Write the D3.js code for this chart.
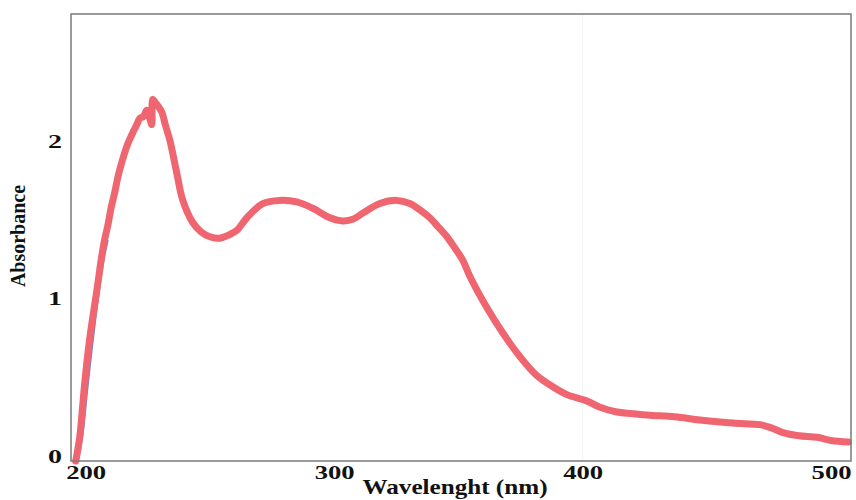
<!DOCTYPE html>
<html>
<head>
<meta charset="utf-8">
<script src="https://cdn.jsdelivr.net/npm/d3@7"></script>
<style>
    body { margin: 0; background: #ffffff; }
</style>
</head>
<body>
<div id="spectrum"></div>
<script>
// 파장(nm) 데이터 - 빨간 흡광 스펙트럼
const wavelength = [196.0, 197.6, 199.6, 201.5, 204.5, 206.5, 207.6, 208.9, 210.2, 211.7, 213.0, 214.9, 216.5, 219.0, 220.6, 221.8, 223.2, 224.6, 225.8, 226.6, 227.0, 228.0, 229.0, 230.6, 232.2, 233.9, 236.7, 239.1, 243.1, 246.5, 250.0, 254.0, 257.5, 260.8, 264.9, 271.3, 278.1, 285.0, 291.4, 298.3, 303.5, 307.5, 311.6, 318.4, 325.2, 330.5, 334.5, 338.5, 342.0, 345.4, 348.5, 351.8, 354.6, 361.5, 367.9, 374.8, 381.6, 388.0, 393.7, 401.7, 407.0, 413.8, 420.0, 427.1, 437.0, 447.2, 460.5, 471.4, 476.0, 480.6, 487.0, 494.3, 500.0, 507.0]
const absorbance = [0.00, 0.15, 0.49, 0.76, 1.08, 1.30, 1.40, 1.49, 1.60, 1.70, 1.80, 1.91, 1.99, 2.08, 2.13, 2.17, 2.18, 2.22, 2.17, 2.13, 2.29, 2.27, 2.25, 2.21, 2.12, 2.03, 1.82, 1.65, 1.51, 1.45, 1.42, 1.41, 1.43, 1.46, 1.54, 1.63, 1.65, 1.64, 1.60, 1.54, 1.52, 1.53, 1.57, 1.63, 1.65, 1.63, 1.59, 1.54, 1.48, 1.42, 1.35, 1.27, 1.17, 0.97, 0.81, 0.66, 0.54, 0.47, 0.42, 0.38, 0.34, 0.31, 0.30, 0.29, 0.28, 0.26, 0.24, 0.23, 0.21, 0.18, 0.16, 0.15, 0.13, 0.12]

// 아래에 살짝 보이는 파란 곡선 (상승 구간만)
const blueWave = [197.0, 198.8, 200.8, 202.8, 205.3, 207.3, 209.0]
const blueAbs = [0.00, 0.16, 0.46, 0.74, 1.06, 1.27, 1.40]

// 축 눈금
const xTicks = [200, 300, 400, 500]
const yTicks = [0, 1, 2]

const spectrum = wavelength.map((w, i) => ({ w: w, a: absorbance[i] }))
const blueLine = blueWave.map((w, i) => ({ w: w, a: blueAbs[i] }))

const margin = { top: 14, right: 5, bottom: 39, left: 71 },
    width = 856 - margin.left - margin.right,
    height = 500 - margin.top - margin.bottom;

const svg = d3.select("#spectrum")
    .append("svg")
    .attr("width", 856)
    .attr("height", 500)
    .append("g")
    .attr("transform", `translate(${margin.left},${margin.top})`);

// 스케일
const xScale = d3.scaleLinear().domain([194.1, 508]).range([0, width])
const yScale = d3.scaleLinear().domain([0, 2.83]).range([height, 0])

// 400nm 위치의 희미한 세로선
svg.append("line")
    .attr("x1", xScale(400)).attr("x2", xScale(400))
    .attr("y1", 0).attr("y2", height)
    .style("stroke", "#f4f4f4")
    .style("stroke-width", 1)

const line = d3.line()
    .x(d => xScale(d.w))
    .y(d => yScale(d.a))
    .curve(d3.curveCatmullRom)

// 파란 곡선 먼저
svg.append("path")
    .datum(blueLine)
    .attr("d", line)
    .style("fill", "none")
    .style("stroke", "#6b86d0")
    .style("stroke-width", 1.5)

// 빨간 스펙트럼
svg.append("path")
    .datum(spectrum)
    .attr("d", line)
    .style("fill", "none")
    .style("stroke", "#ef6670")
    .style("stroke-width", 7)
    .style("stroke-linejoin", "round")
    .style("stroke-linecap", "round")

// 테두리
svg.append("rect")
    .attr("x", 0).attr("y", 0)
    .attr("width", width).attr("height", height)
    .style("fill", "none")
    .style("stroke", "#7a7a7a")
    .style("stroke-width", 1.5)

// x축 (눈금선 없이 라벨만) - 스캔본처럼 옆으로 넓은 글자
const xAxis = d3.axisBottom(xScale).tickValues(xTicks).tickSize(0).tickPadding(5)
const gx = svg.append("g")
    .attr("class", "x-axis")
    .attr("transform", `translate(0, ${height})`)
    .call(xAxis)
gx.select(".domain").remove()
gx.selectAll("text")
    .attr("font-family", "'Liberation Serif', 'DejaVu Serif', serif")
    .attr("font-weight", "bold")
    .attr("font-size", 19)
    .attr("textLength", 40)
    .attr("lengthAdjust", "spacingAndGlyphs")
    .style("fill", "#111")

// y축
const yAxis = d3.axisLeft(yScale).tickValues(yTicks).tickFormat(d3.format("d")).tickSize(0).tickPadding(9)
const gy = svg.append("g")
    .attr("class", "y-axis")
    .call(yAxis)
gy.select(".domain").remove()
gy.selectAll("text")
    .attr("font-family", "'Liberation Serif', 'DejaVu Serif', serif")
    .attr("font-weight", "bold")
    .attr("font-size", 19)
    .attr("dy", "0.1em")
    .attr("textLength", 14)
    .attr("lengthAdjust", "spacingAndGlyphs")
    .style("fill", "#111")

// 축 제목
svg.append("text")
    .attr("text-anchor", "middle")
    .attr("x", 455 - margin.left)
    .attr("y", 494 - margin.top)
    .attr("font-family", "'Liberation Serif', 'DejaVu Serif', serif")
    .attr("font-weight", "bold")
    .attr("font-size", 21)
    .attr("textLength", 185)
    .attr("lengthAdjust", "spacingAndGlyphs")
    .style("fill", "#111")
    .text("Wavelenght (nm)");

svg.append("text")
    .attr("text-anchor", "middle")
    .attr("transform", `translate(${25 - margin.left}, ${236 - margin.top}) rotate(-90)`)
    .attr("font-family", "'Liberation Serif', 'DejaVu Serif', serif")
    .attr("font-weight", "bold")
    .attr("font-size", 20)
    .style("fill", "#111")
    .text("Absorbance");
</script>
</body>
</html>
